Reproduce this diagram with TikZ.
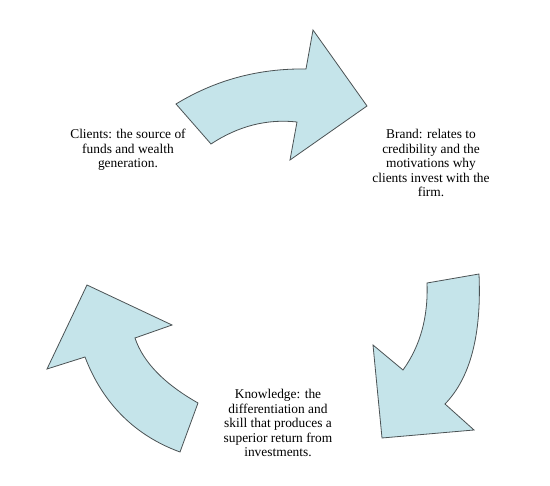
\documentclass[tikz,border=0pt]{standalone}
\usepackage{fontspec}
\setmainfont{Liberation Serif}
\definecolor{arrowfill}{RGB}{197,228,234}
\definecolor{arrowline}{RGB}{75,82,84}
\begin{document}
\begin{tikzpicture}[x=1pt,y=-1pt,line join=miter,
    cyclearrow/.style={fill=arrowfill,draw=arrowline,line width=0.8pt},
    caption/.style={align=center,font=\fontsize{13.4}{14.5}\selectfont,inner sep=0pt}]
		\useasboundingbox (0,0) rectangle (550,486);
		\draw [cyclearrow] (176,104) .. controls (215.3,80) and (258.7,68.3) .. (306,69) -- (313,30) -- (367,106) -- (290,160) -- (297,122) .. controls (267,118.7) and (238.3,126) .. (211,144) -- cycle;
		\draw [cyclearrow] (479,274) .. controls (481.7,334.7) and (470.3,378) .. (445,404) -- (474,430) -- (382,438) -- (373,345) -- (403,370) .. controls (420.3,346) and (428.3,317) .. (427,283) -- cycle;
		\draw [cyclearrow] (198,403) .. controls (164,383.7) and (143,362) .. (135,338) -- (172,325) -- (87,285) -- (47,369) -- (85,357) .. controls (103,404.3) and (136,436) .. (180,452) -- cycle;
		\node [caption] (clients) at (128,150) {Clients: the source of\\funds and wealth\\generation.};
		\node [caption] (brand) at (431,163) {Brand: relates to\\credibility and the\\motivations why\\clients invest with the\\firm.};
		\node [caption] (knowledge) at (278,423) {Knowledge: the\\differentiation and\\skill that produces a\\superior return from\\investments.};
\end{tikzpicture}
\end{document}
